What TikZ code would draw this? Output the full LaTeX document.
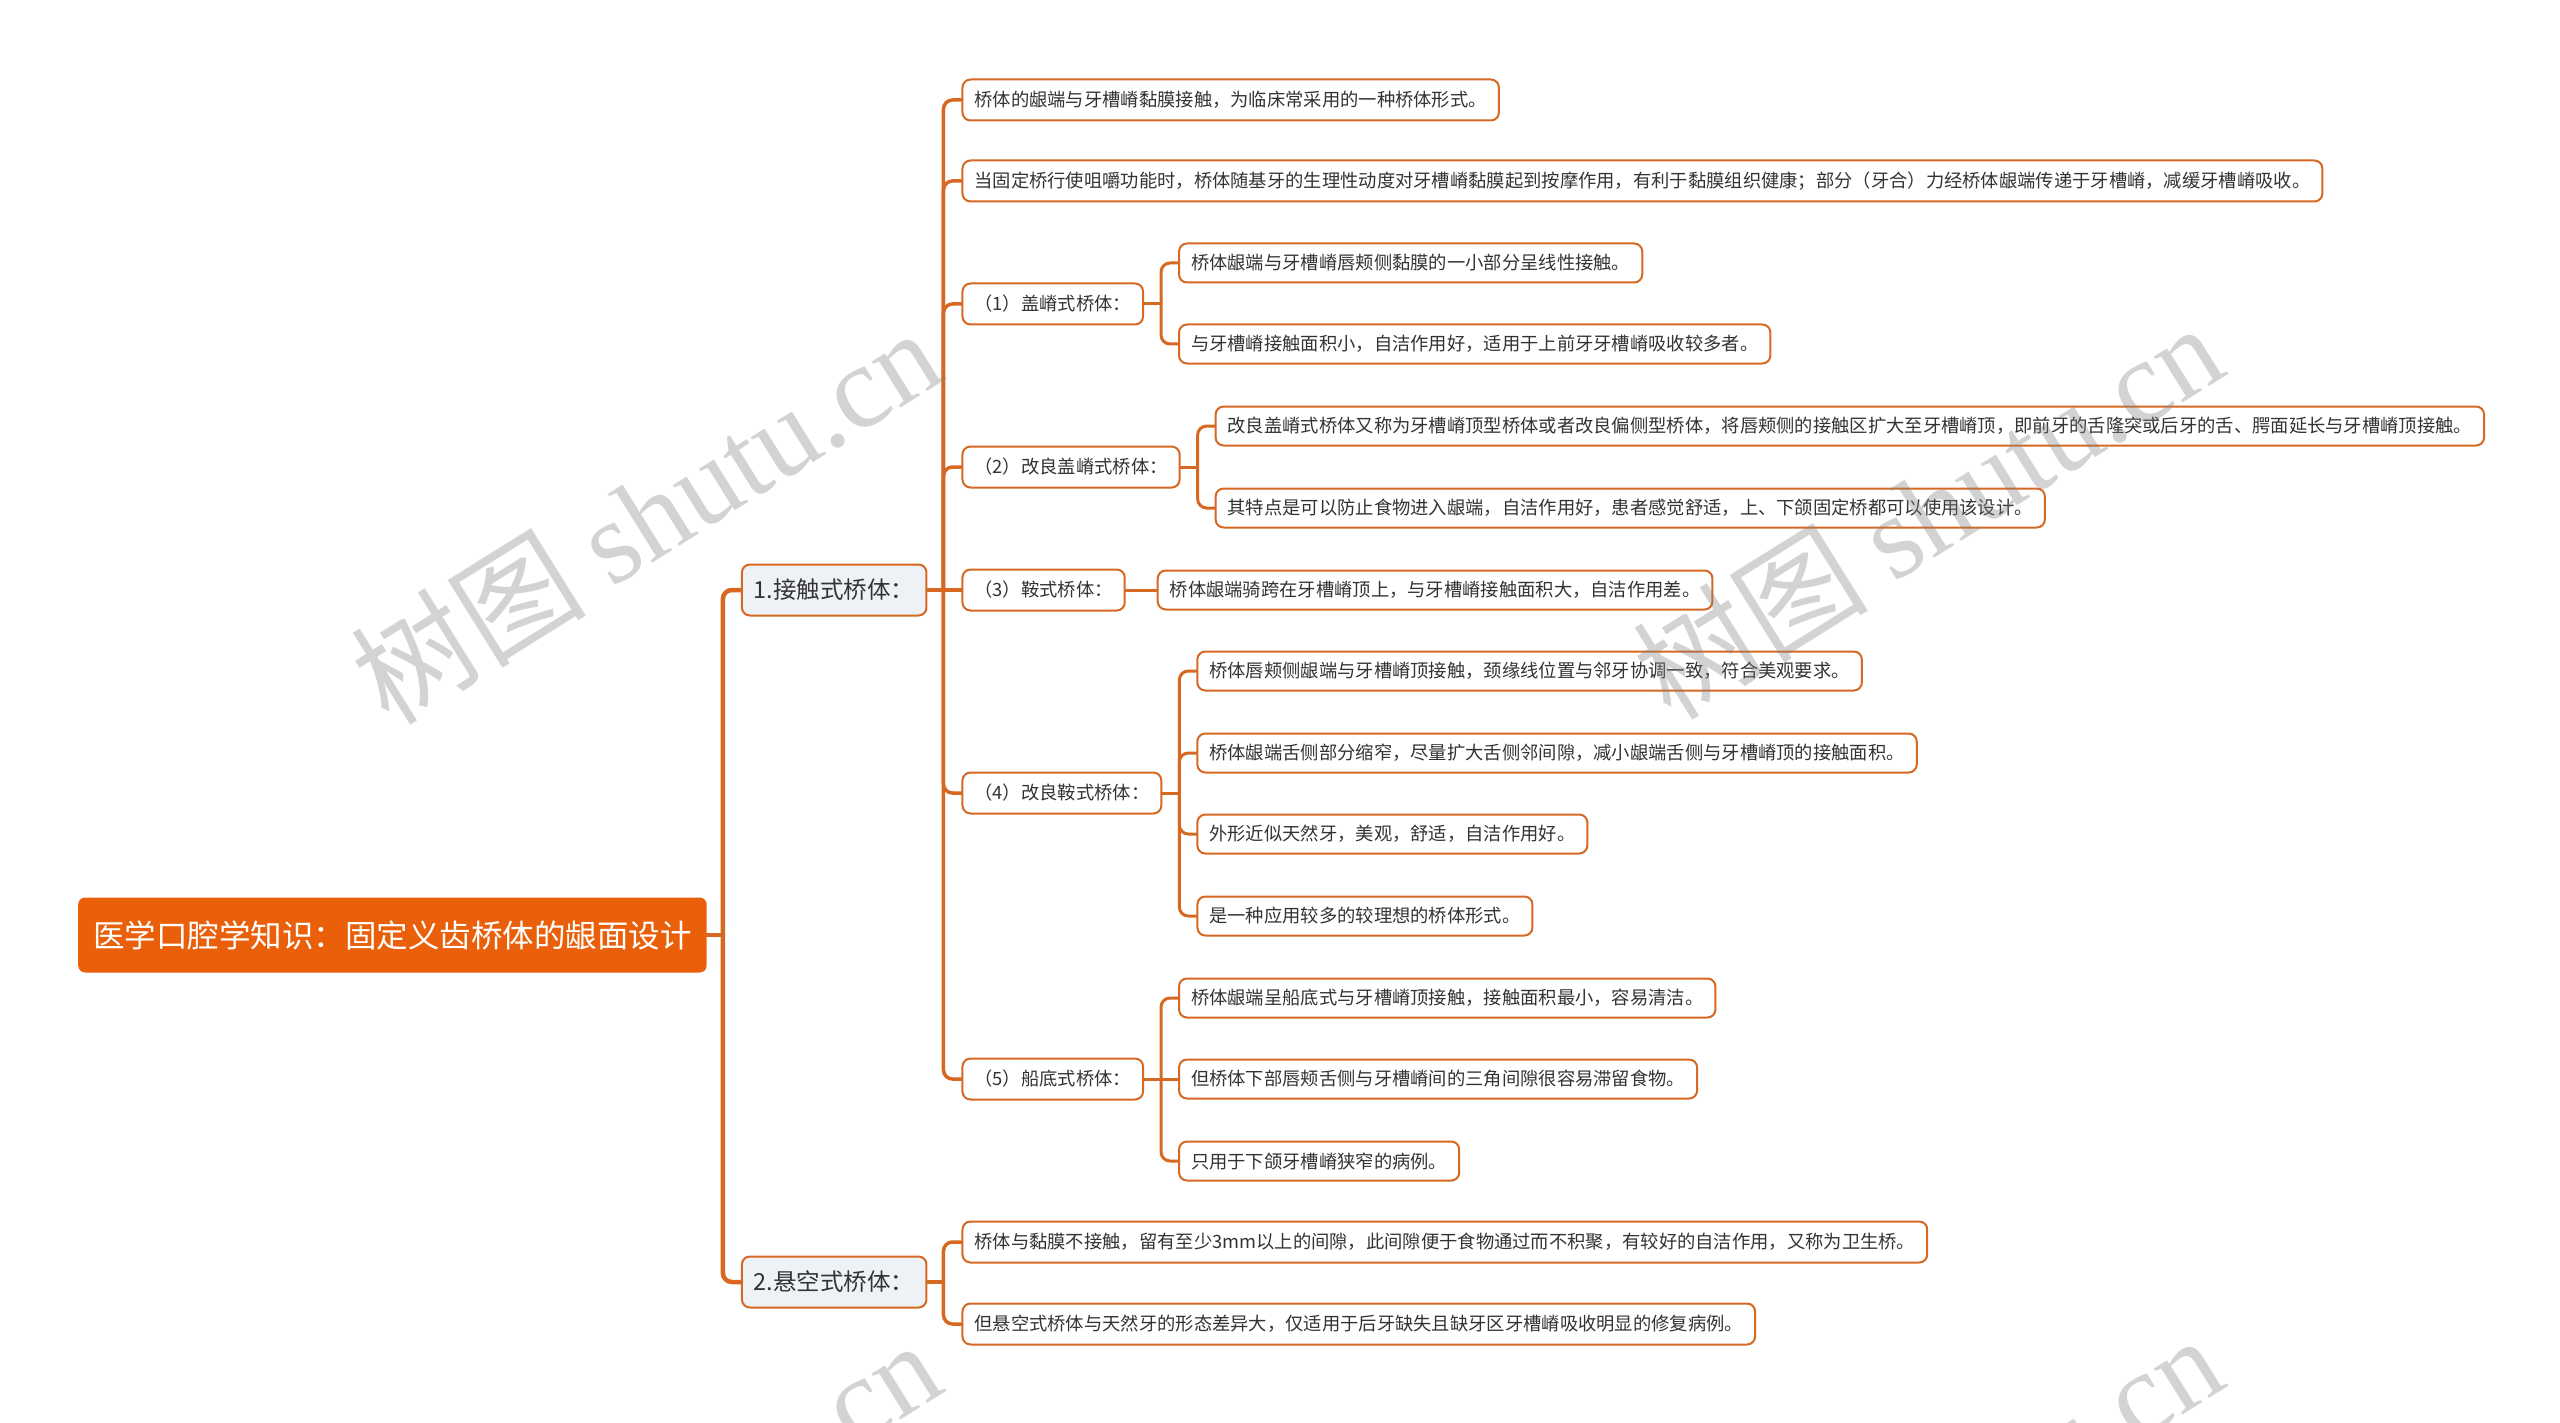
\documentclass[tikz,border=0pt]{standalone}
\usepackage{fontspec}
\setmainfont{Noto Sans CJK SC}
\newfontfamily\wmlatin{Liberation Serif}
\usetikzlibrary{calc}

\begin{document}
\begin{tikzpicture}[x=1pt, y=-1pt, line cap=round,
  rootbox/.style={anchor=west, rounded corners=7pt, fill=rootorange, text=white,
    minimum height=75pt, inner xsep=15pt, font=\fontsize{31.5}{36}\selectfont},
  mainbox/.style={anchor=west, rounded corners=8pt, draw=lineorange, line width=2pt,
    fill=mainfill, text=textgray, minimum height=51pt, inner xsep=12pt,
    font=\fontsize{23.5}{28}\selectfont},
  subbox/.style={anchor=west, rounded corners=8pt, draw=lineorange, line width=2pt,
    fill=white, text=textgray, minimum height=41pt, inner xsep=12pt,
    font=\fontsize{18.3}{22}\selectfont},
  leafbox/.style={subbox, minimum height=39pt},
  link/.style={draw=lineorange, line width=3pt, rounded corners=9pt},
  watermark/.style={anchor=center, rotate=32, text=gray, opacity=0.35,
    font=\fontsize{118}{120}\selectfont}]
  % 颜色
  \definecolor{rootorange}{RGB}{234,96,10}
  \definecolor{lineorange}{RGB}{214,104,34}
  \definecolor{mainfill}{RGB}{238,241,246}
  \definecolor{textgray}{RGB}{51,51,51}

  \useasboundingbox (0,0) rectangle (2560,1423);

  % 中心主题
  \node[rootbox] (root) at (78,935) {医学口腔学知识：固定义齿桥体的龈面设计};

  % 一级分支
  \node[mainbox] (n1) at ($(root.east)+(34,-345)$) {1.接触式桥体：};
  \node[mainbox] (n2) at ($(root.east)+(34,347)$) {2.悬空式桥体：};

  % 接触式桥体 下级
  \node[subbox] (a1) at ($(n1.east)+(34,-490)$) {桥体的龈端与牙槽嵴黏膜接触，为临床常采用的一种桥体形式。};
  \node[subbox] (a2) at ($(n1.east)+(34,-409)$) {当固定桥行使咀嚼功能时，桥体随基牙的生理性动度对牙槽嵴黏膜起到按摩作用，有利于黏膜组织健康；部分（牙合）力经桥体龈端传递于牙槽嵴，减缓牙槽嵴吸收。};
  \node[subbox] (g1) at ($(n1.east)+(34,-286)$) {（1）盖嵴式桥体：};
  \node[subbox] (g2) at ($(n1.east)+(34,-123)$) {（2）改良盖嵴式桥体：};
  \node[subbox] (g3) at ($(n1.east)+(34,0)$) {（3）鞍式桥体：};
  \node[subbox] (g4) at ($(n1.east)+(34,203)$) {（4）改良鞍式桥体：};
  \node[subbox] (g5) at ($(n1.east)+(34,489)$) {（5）船底式桥体：};

  % （1）盖嵴式
  \node[leafbox] (g1a) at ($(g1.east)+(34,-41)$) {桥体龈端与牙槽嵴唇颊侧黏膜的一小部分呈线性接触。};
  \node[leafbox] (g1b) at ($(g1.east)+(34,40)$) {与牙槽嵴接触面积小，自洁作用好，适用于上前牙牙槽嵴吸收较多者。};

  % （2）改良盖嵴式
  \node[leafbox] (g2a) at ($(g2.east)+(34,-41)$) {改良盖嵴式桥体又称为牙槽嵴顶型桥体或者改良偏侧型桥体，将唇颊侧的接触区扩大至牙槽嵴顶，即前牙的舌隆突或后牙的舌、腭面延长与牙槽嵴顶接触。};
  \node[leafbox] (g2b) at ($(g2.east)+(34,41)$) {其特点是可以防止食物进入龈端，自洁作用好，患者感觉舒适，上、下颌固定桥都可以使用该设计。};

  % （3）鞍式
  \node[leafbox] (g3a) at ($(g3.east)+(31,0)$) {桥体龈端骑跨在牙槽嵴顶上，与牙槽嵴接触面积大，自洁作用差。};

  % （4）改良鞍式
  \node[leafbox] (g4a) at ($(g4.east)+(34,-122)$) {桥体唇颊侧龈端与牙槽嵴顶接触，颈缘线位置与邻牙协调一致，符合美观要求。};
  \node[leafbox] (g4b) at ($(g4.east)+(34,-40)$) {桥体龈端舌侧部分缩窄，尽量扩大舌侧邻间隙，减小龈端舌侧与牙槽嵴顶的接触面积。};
  \node[leafbox] (g4c) at ($(g4.east)+(34,41)$) {外形近似天然牙，美观，舒适，自洁作用好。};
  \node[leafbox] (g4d) at ($(g4.east)+(34,123)$) {是一种应用较多的较理想的桥体形式。};

  % （5）船底式
  \node[leafbox] (g5a) at ($(g5.east)+(34,-81)$) {桥体龈端呈船底式与牙槽嵴顶接触，接触面积最小，容易清洁。};
  \node[leafbox] (g5b) at ($(g5.east)+(34,0)$) {但桥体下部唇颊舌侧与牙槽嵴间的三角间隙很容易滞留食物。};
  \node[leafbox] (g5c) at ($(g5.east)+(34,82)$) {只用于下颌牙槽嵴狭窄的病例。};

  % 悬空式桥体 下级
  \node[subbox] (b1) at ($(n2.east)+(34,-40)$) {桥体与黏膜不接触，留有至少3mm以上的间隙，此间隙便于食物通过而不积聚，有较好的自洁作用，又称为卫生桥。};
  \node[subbox] (b2) at ($(n2.east)+(34,42)$) {但悬空式桥体与天然牙的形态差异大，仅适用于后牙缺失且缺牙区牙槽嵴吸收明显的修复病例。};

  % 连线：中心 -> 一级
  \coordinate (rs) at ($(root.east)+(16,0)$);
  \draw[link, line width=4.5pt] (root.east) -- (rs);
  \draw[link, line width=4.5pt] (rs) |- (n1.west);
  \draw[link, line width=4.5pt] (rs) |- (n2.west);

  % 连线：一级 -> 二级
  \coordinate (s1) at ($(n1.east)+(16,0)$);
  \draw[link, line width=3.5pt] (n1.east) -- (s1);
  \draw[link, line width=3.5pt] (s1) |- (a1.west);
  \draw[link, line width=3.5pt] (s1) |- (a2.west);
  \draw[link, line width=3.5pt] (s1) |- (g1.west);
  \draw[link, line width=3.5pt] (s1) |- (g2.west);
  \draw[link, line width=3.5pt] (s1) -- (g3.west);
  \draw[link, line width=3.5pt] (s1) |- (g4.west);
  \draw[link, line width=3.5pt] (s1) |- (g5.west);

  \coordinate (s2) at ($(n2.east)+(16,0)$);
  \draw[link, line width=3.5pt] (n2.east) -- (s2);
  \draw[link, line width=3.5pt] (s2) |- (b1.west);
  \draw[link, line width=3.5pt] (s2) |- (b2.west);

  % 连线：二级 -> 叶子
  \coordinate (t1) at ($(g1.east)+(17,0)$);
  \draw[link] (g1.east) -- (t1);
  \draw[link] (t1) |- (g1a.west);
  \draw[link] (t1) |- (g1b.west);

  \coordinate (t2) at ($(g2.east)+(17,0)$);
  \draw[link] (g2.east) -- (t2);
  \draw[link] (t2) |- (g2a.west);
  \draw[link] (t2) |- (g2b.west);

  \draw[link] (g3.east) -- (g3a.west);

  \coordinate (t4) at ($(g4.east)+(17,0)$);
  \draw[link] (g4.east) -- (t4);
  \draw[link] (t4) |- (g4a.west);
  \draw[link] (t4) |- (g4b.west);
  \draw[link] (t4) |- (g4c.west);
  \draw[link] (t4) |- (g4d.west);

  \coordinate (t5) at ($(g5.east)+(17,0)$);
  \draw[link] (g5.east) -- (t5);
  \draw[link] (t5) |- (g5a.west);
  \draw[link] (t5) -- (g5b.west);
  \draw[link] (t5) |- (g5c.west);

  % 水印
  \begin{scope}
    \clip (0,0) rectangle (2560,1423);
    \foreach \wx/\wy in {645/515, 1927/510, 645/1527, 1927/1522}
      \node[watermark] at (\wx,\wy) {树图 {\wmlatin shutu.cn}};
  \end{scope}
\end{tikzpicture}
\end{document}
